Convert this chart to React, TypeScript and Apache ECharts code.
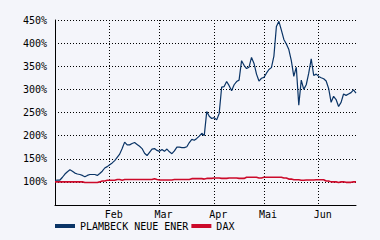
import React, { useEffect, useRef } from 'react';
import * as echarts from 'echarts';

// Trading days (Jan 2 – Jun 22), German exchange holidays excluded
const HOLIDAYS = ['2001-01-01', '2001-04-13', '2001-05-01'];
const FIRST_DAY = '2001-01-02';
const LAST_DAY = '2001-06-22';
const MONTH_LABELS = ['Jan', 'Feb', 'Mar', 'Apr', 'Mai', 'Jun'];
const Y_TICKS = [50, 100, 150, 200, 250, 300, 350, 400, 450];
const SERIES_NAMES = ['PLAMBECK NEUE ENER', 'DAX'];

function tradingDays(from: string, to: string): string[] {
  const out: string[] = [];
  const d = new Date(from + 'T00:00:00Z');
  const end = new Date(to + 'T00:00:00Z');
  while (d <= end) {
    const wd = d.getUTCDay();
    const s = d.toISOString().slice(0, 10);
    if (wd !== 0 && wd !== 6 && !HOLIDAYS.includes(s)) out.push(s);
    d.setUTCDate(d.getUTCDate() + 1);
  }
  return out;
}
const dates = tradingDays(FIRST_DAY, LAST_DAY);

const plambeck = [
  103, 104, 104, 110, 117, 122, 126, 123, 119, 117,
  116, 114, 111, 114, 116, 116, 116, 114, 118, 123,
  130, 133, 137, 141, 146, 153, 160, 172, 186, 180,
  180, 183, 185, 181, 177, 172, 162, 157, 164, 171,
  172, 168, 166, 170, 166, 171, 165, 161, 167, 175,
  175, 174, 174, 176, 185, 192, 190, 194, 199, 205,
  200, 252, 242, 237, 239, 234, 248, 305, 306, 317,
  308, 297, 310, 317, 320, 362, 352, 345, 348, 369,
  356, 333, 318, 324, 326, 335, 343, 347, 372, 436,
  447, 428, 408, 398, 386, 362, 328, 348, 266, 320,
  300, 310, 335, 366, 330, 333, 328, 325, 323, 318,
  302, 272, 285, 278, 263, 272, 290, 287, 290, 293,
  299, 292,
];

const dax = [
  100, 100, 100, 100, 100, 100, 100, 100, 100, 100, 100, 100,
  98.5, 98.5, 98.5, 98.5, 98.5, 98.5,
  100, 102, 102, 103.5, 103.5, 103.5, 103.5, 105, 105, 103.5,
  105, 105, 105, 105, 105, 105, 105, 105, 105, 105, 105, 105,
  107, 105, 104, 104, 104, 104, 104, 104,
  105, 105, 105, 105, 105, 105, 105,
  107, 107, 107, 107, 107, 106,
  107.5, 107.5, 107.5, 108.5, 108.5, 108.5, 107.5, 107.5, 107.5,
  108.5, 108.5, 108.5, 108.5, 107.5, 107.5, 107.5,
  110, 110, 110, 110, 110, 108.5, 108.5,
  110, 110, 110, 110, 110, 110, 110, 110,
  108.5, 108.5, 106, 106, 104.5, 104.5, 104.5, 103.5, 103.5,
  104, 104, 104, 104, 104.5, 104.5, 104.5, 104.5,
  102, 102, 100, 100, 100, 98.5, 100, 100, 99, 99, 99, 100, 100,
];

const isMonthStart = (i: number) =>
  i > 0 && dates[i].slice(5, 7) !== dates[i - 1].slice(5, 7);

const FONT = 'DejaVu Sans Mono';
const BLUE = '#0a3466';
const RED = '#cc0a2a';
const dotted = { color: '#000', width: 1, type: [1, 2] as number[] };

export default function App() {
  const ref = useRef<HTMLDivElement>(null);
  useEffect(() => {
    if (!ref.current) return;
    const chart = echarts.init(ref.current, undefined, { renderer: 'svg' });
    chart.setOption({
      animation: false,
      backgroundColor: '#f4f5fa',
      textStyle: { fontFamily: FONT },
      grid: { left: 55, right: 24, top: 20, bottom: 35 },
      legend: {
        left: 55,
        top: 221,
        icon: 'rect',
        itemWidth: 20,
        itemHeight: 4,
        itemGap: 3,
        padding: 0,
        data: SERIES_NAMES,
        textStyle: { fontFamily: FONT, fontSize: 10, color: '#000' },
      },
      xAxis: {
        type: 'category',
        data: dates,
        boundaryGap: false,
        axisLine: { lineStyle: { color: '#000', width: 1 } },
        axisTick: { show: false },
        axisLabel: {
          interval: (i: number) => isMonthStart(i),
          formatter: (v: string) => MONTH_LABELS[parseInt(v.slice(5, 7), 10) - 1],
          fontFamily: FONT,
          fontSize: 10,
          color: '#000',
          margin: 4,
          padding: [0, 0, 0, 8],
        },
        splitLine: {
          show: true,
          interval: (i: number) => isMonthStart(i),
          lineStyle: dotted,
        },
      },
      yAxis: {
        type: 'value',
        min: Y_TICKS[0],
        max: Y_TICKS[Y_TICKS.length - 1],
        interval: 50,
        axisLine: { show: true, lineStyle: { color: '#000', width: 1 } },
        axisTick: { show: false },
        axisLabel: {
          formatter: (v: number) => (v === Y_TICKS[0] ? '' : v + '%'),
          fontFamily: FONT,
          fontSize: 10,
          color: '#000',
          margin: 8,
        },
        splitLine: { show: true, lineStyle: dotted },
      },
      series: [
        {
          name: SERIES_NAMES[0],
          type: 'line',
          data: plambeck,
          symbol: 'none',
          showSymbol: false,
          z: 3,
          lineStyle: { color: BLUE, width: 1.2 },
          itemStyle: { color: BLUE },
        },
        {
          name: SERIES_NAMES[1],
          type: 'line',
          data: dax,
          symbol: 'none',
          showSymbol: false,
          z: 2,
          lineStyle: { color: RED, width: 1.6 },
          itemStyle: { color: RED },
        },
      ],
    });
    return () => chart.dispose();
  }, []);
  return (
    <div
      ref={ref}
      style={{ position: 'fixed', left: 0, top: 0, width: 380, height: 240 }}
    />
  );
}
